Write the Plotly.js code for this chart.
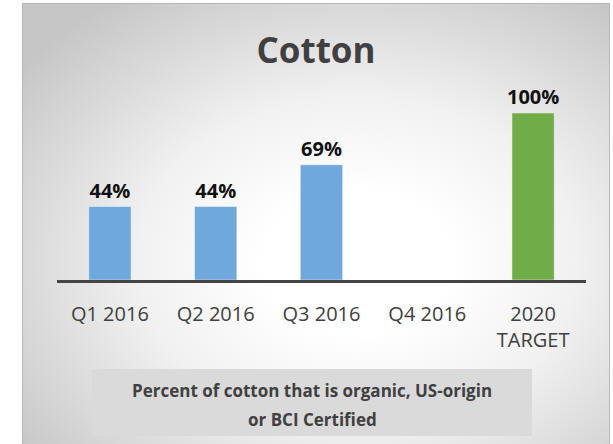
<!DOCTYPE html>
<html>
<head>
<meta charset="utf-8">
<script src="https://cdn.plot.ly/plotly-3.0.1.min.js"></script>
<style>
  html, body { margin: 0; padding: 0; background: #ffffff; }
  #wrap { position: relative; width: 613px; height: 444px; overflow: hidden; }
  #bg {
    position: absolute; left: 22px; top: 3px; width: 588px; height: 446px;
    border: 1px solid #b8b8b8; box-sizing: border-box;
    background: radial-gradient(ellipse 72% 72% at 57% 58%, #ffffff 0%, #ffffff 22%, #f1f1f1 52%, #d8d8d8 80%, #c6c6c6 100%);
  }
  #chart { position: absolute; left: 0; top: 0; width: 613px; height: 444px; }
</style>
</head>
<body>
<div id="wrap">
  <div id="bg"></div>
  <div id="chart"></div>
</div>
<script>
// ---- data ----
const categories = ["Q1 2016", "Q2 2016", "Q3 2016", "Q4 2016", "2020<br>TARGET"];
const values = [0.44, 0.44, 0.69, null, 1.00];
const valueLabels = ["44%", "44%", "69%", "", "100%"];
const barColors = ["#6fa8dc", "#6fa8dc", "#6fa8dc", "#6fa8dc", "#70ad47"];
const chartTitle = "Cotton";
const noteLines = ["Percent of cotton that is organic, US-origin", "or BCI Certified"];

// ---- layout helpers (pixel -> paper) ----
const W = 613, H = 444;
const L = 57, R = 27, T = 113, B = 164;
const plotW = W - L - R, plotH = H - T - B;
const px = x => (x - L) / plotW;
const py = y => (H - B - y) / plotH;

const trace = {
  type: "bar",
  x: categories,
  y: values,
  text: valueLabels,
  textposition: "outside",
  constraintext: "none",
  cliponaxis: false,
  textfont: { family: "Open Sans, sans-serif", size: 20, color: "#111111", weight: "bold" },
  marker: { color: barColors, line: { color: "rgba(255,255,255,0.45)", width: 1 } },
  hoverinfo: "skip"
};

const layout = {
  width: W, height: H,
  margin: { l: L, r: R, t: T, b: B, pad: 0 },
  paper_bgcolor: "rgba(0,0,0,0)",
  plot_bgcolor: "rgba(0,0,0,0)",
  showlegend: false,
  bargap: 0.6,
  font: { family: "Open Sans, sans-serif", color: "#404040" },
  title: {
    text: "<b>" + chartTitle + "</b>",
    font: { family: "Open Sans, sans-serif", size: 35, color: "#404040" },
    xref: "container", yref: "container",
    x: 316 / W, y: 1 - 51 / H, xanchor: "center", yanchor: "middle"
  },
  xaxis: {
    type: "category",
    showgrid: false, zeroline: false,
    showline: true, linecolor: "#444444", linewidth: 3,
    ticks: "", ticklabelstandoff: 14,
    tickfont: { family: "Open Sans, sans-serif", size: 20, color: "#404040" },
    fixedrange: true
  },
  yaxis: {
    range: [0, 1], showgrid: false, zeroline: false, showline: false,
    showticklabels: false, ticks: "", fixedrange: true
  },
  shapes: [{
    type: "rect", xref: "paper", yref: "paper",
    x0: px(92), x1: px(532), y0: py(369), y1: py(436),
    fillcolor: "#dadada", line: { width: 0 }, layer: "below"
  }],
  annotations: [
    {
      xref: "paper", yref: "paper", x: px(312), y: py(390),
      xanchor: "center", yanchor: "middle", showarrow: false,
      text: "<b>" + noteLines[0] + "</b>",
      font: { family: "Open Sans, sans-serif", size: 17, color: "#404040" }
    },
    {
      xref: "paper", yref: "paper", x: px(312), y: py(419),
      xanchor: "center", yanchor: "middle", showarrow: false,
      text: "<b>" + noteLines[1] + "</b>",
      font: { family: "Open Sans, sans-serif", size: 17, color: "#404040" }
    }
  ]
};

Plotly.newPlot("chart", [trace], layout, { displayModeBar: false, staticPlot: true });
</script>
</body>
</html>
